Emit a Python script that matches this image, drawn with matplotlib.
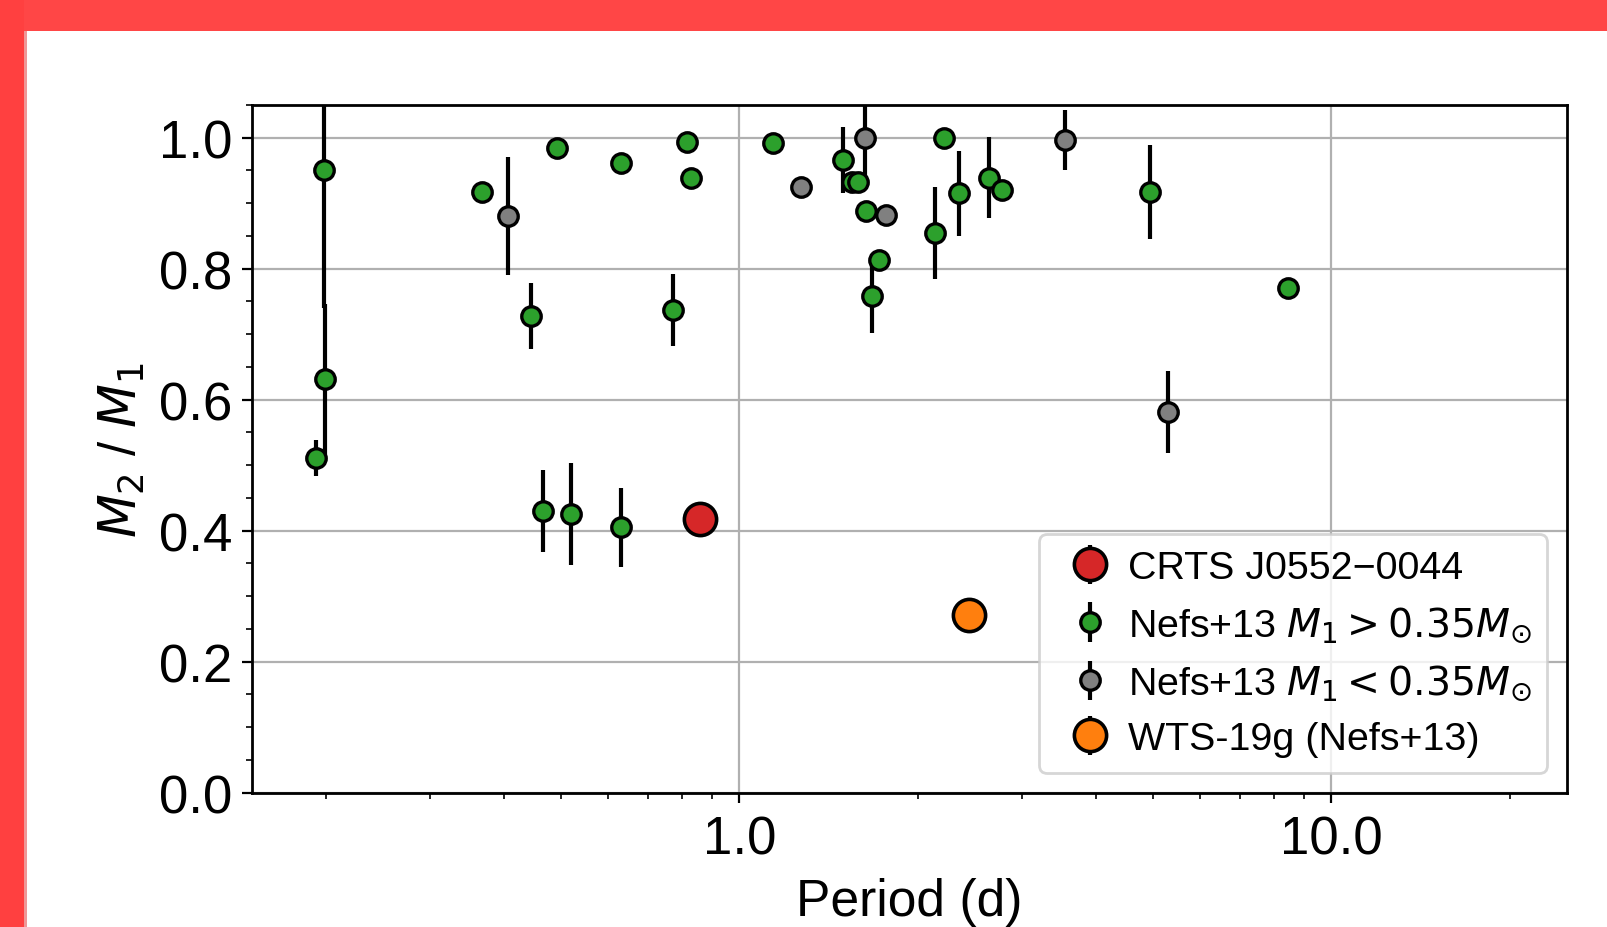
import numpy as np
import matplotlib
matplotlib.use("Agg")
import matplotlib.pyplot as plt
from matplotlib.patches import Rectangle
from matplotlib.ticker import MultipleLocator, FormatStrFormatter, NullFormatter

plt.rcParams['font.family'] = ['Liberation Sans', 'DejaVu Sans']

# Nefs+13, M1 > 0.35 Msun
green_period = [0.1985, 0.1992, 0.193, 0.368, 0.445, 0.492, 0.630, 0.772, 0.815,
                0.828, 1.139, 1.498, 1.550, 1.588, 1.636, 1.723, 1.673, 2.142,
                2.213, 2.346, 2.636, 2.773, 4.94, 8.43, 0.465, 0.520, 0.631]
green_q = [0.950, 0.631, 0.511, 0.917, 0.728, 0.984, 0.961, 0.737, 0.994,
           0.938, 0.992, 0.966, 0.933, 0.933, 0.888, 0.814, 0.758, 0.855,
           1.000, 0.915, 0.939, 0.920, 0.917, 0.770, 0.430, 0.426, 0.405]
green_err = [0.21, 0.115, 0.027, 0.0, 0.05, 0.0, 0.0, 0.055, 0.0,
             0.0, 0.0, 0.05, 0.0, 0.0, 0.0, 0.0, 0.056, 0.07,
             0.0, 0.065, 0.062, 0.0, 0.072, 0.0, 0.062, 0.078, 0.06]

# Nefs+13, M1 < 0.35 Msun
grey_period = [0.407, 1.271, 1.632, 1.769, 3.55, 5.30]
grey_q = [0.880, 0.925, 1.000, 0.882, 0.997, 0.581]
grey_err = [0.09, 0.0, 0.067, 0.0, 0.046, 0.062]

crts_period = [0.859]
crts_q = [0.417]
wts_period = [2.443]
wts_q = [0.271]

fig = plt.figure(figsize=(8.04, 4.64), dpi=200)
# red page frame around the white card
fig.add_artist(Rectangle((0, 896 / 928), 1, 32 / 928, transform=fig.transFigure,
                         color='#ff4646', lw=0, zorder=-10))
fig.add_artist(Rectangle((0, 0), 24 / 1608, 1, transform=fig.transFigure,
                         color='#ff4040', lw=0, zorder=-10))
fig.add_artist(Rectangle((24 / 1608, 0), 3 / 1608, 896 / 928, transform=fig.transFigure,
                         color='#e03030', lw=0, zorder=-9, alpha=0.5))

ax = fig.add_axes([0.1565, 0.1449, 0.818, 0.7409])

big = dict(fmt='o', ms=11.6, mec='k', mew=1.3, ecolor='k', elinewidth=1.5, zorder=4)
small = dict(fmt='o', ms=7.0, mec='k', mew=1.2, ecolor='k', elinewidth=1.5, zorder=3)

ax.errorbar(crts_period, crts_q, yerr=[0.0], mfc='tab:red',
            label='CRTS J0552\u22120044', **big)
ax.errorbar(green_period, green_q, yerr=green_err, mfc='tab:green',
            label=r'Nefs+13 $M_1 > 0.35M_{\odot}$', **small)
ax.errorbar(grey_period, grey_q, yerr=grey_err, mfc='grey',
            label=r'Nefs+13 $M_1 < 0.35M_{\odot}$', **small)
ax.errorbar(wts_period, wts_q, yerr=[0.0], mfc='tab:orange',
            label='WTS-19g (Nefs+13)', **big)

ax.set_xscale('log')
ax.set_xlim(0.15, 25)
ax.set_ylim(0, 1.05)
ax.xaxis.set_major_formatter(FormatStrFormatter('%.1f'))
ax.xaxis.set_minor_formatter(NullFormatter())
ax.yaxis.set_major_locator(MultipleLocator(0.2))
ax.yaxis.set_minor_locator(MultipleLocator(0.05))
ax.yaxis.set_major_formatter(FormatStrFormatter('%.1f'))
ax.tick_params(labelsize=19)
ax.tick_params(axis='x', pad=4.5)
ax.grid(True, which='major', color='#b0b0b0', lw=0.8)
ax.set_axisbelow(True)
for sp in ax.spines.values():
    sp.set_linewidth(1.0)

ax.set_xlabel('Period (d)', fontsize=18.6, labelpad=4.5)
ax.set_ylabel(r'$M_2$ / $M_1$', fontsize=18.3)
ax.legend(loc='lower right', fontsize=14.2, handletextpad=0.05,
          handlelength=1.8, labelspacing=0.47)

fig.savefig('out.png', dpi=200)
